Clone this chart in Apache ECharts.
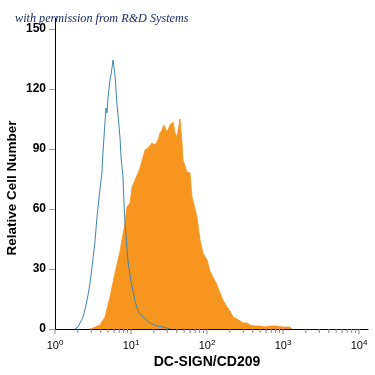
<!DOCTYPE html>
<html>
<head>
<meta charset="utf-8">
<script src="https://cdn.jsdelivr.net/npm/echarts@6/dist/echarts.min.js"></script>
<style>
  html, body { margin: 0; padding: 0; background: #fff; }
  #chart { width: 375px; height: 375px; }
</style>
</head>
<body>
<div id="chart"></div>
<script>
  // isotype control (blue outline)
  var isoX = [1.83, 2.01, 2.13, 2.34, 2.56, 2.72, 2.89, 3.16, 3.36, 3.57, 3.91, 4.15, 4.28, 4.55, 4.69, 4.83, 4.98,
    5.29, 5.46, 5.80, 6.16, 6.55, 6.75, 7.17, 7.39, 7.85, 8.09, 8.34, 9.13, 10.0, 10.63, 11.29, 12.37, 14.39,
    17.78, 21.99, 26.37, 32.61];
  var isoY = [0, 1, 3, 6, 12, 17, 23, 35, 44, 56, 70, 78.5, 88.5, 103.5, 110.5, 108, 115.5,
    124.5, 127, 134.5, 127, 112, 107, 95.5, 86, 76, 63, 53, 34, 24, 19, 14, 9, 6,
    3, 1.5, 1, 0];

  // DC-SIGN stained cells (orange fill)
  var dcX = [2.89, 3.16, 3.91, 4.55, 5.29, 6.16, 7.17, 8.34, 8.86, 9.70, 10.31, 11.29, 12.37, 13.14, 14.39,
    15.29, 16.74, 17.78, 18.90, 20.70, 22.67, 24.08, 25.58, 27.18, 29.77, 32.61, 35.71, 37.93, 40.30, 44.13,
    46.90, 48.33, 54.57, 59.76, 63.48, 69.54, 73.86, 80.89, 88.61, 100, 109.5, 119.9, 135.4, 148.3, 162.4,
    183.3, 200.8, 219.9, 248.2, 271.8, 297.7, 336.0, 368.0, 428.2, 498.4, 579.8, 674.6, 833.9, 1000, 1236, 1314];
  var dcY = [0, 0.5, 2, 6, 16, 28, 39, 53, 61, 63, 71, 74.5, 78, 80.5, 86,
    89.5, 90.5, 90, 93, 92, 94.5, 98, 99.5, 102, 98.5, 102, 103.5, 98, 96, 105,
    93, 84.5, 78.5, 78, 66, 60, 56, 44.5, 38, 34.5, 29, 26, 22, 18, 14.5,
    11, 9, 6, 5, 4, 3, 3, 2, 1.5, 1.5, 1, 1.5, 1.5, 1, 1, 0];

  var yTicks = [0, 30, 60, 90, 120, 150];
  var majorTicks = [1, 10, 100, 1000, 10000];
  var minorTicks = [2, 3, 4, 5, 6, 7, 8, 9, 20, 30, 40, 50, 60, 70, 80, 90,
    200, 300, 400, 500, 600, 700, 800, 900, 2000, 3000, 4000, 5000, 6000, 7000, 8000, 9000];

  function pairs(xs, ys) {
    var out = [];
    for (var i = 0; i < xs.length; i++) {
      out.push([xs[i], ys[i]]);
    }
    return out;
  }

  var tickData = [];
  majorTicks.forEach(function (v) { tickData.push([v, 0, 1]); });
  minorTicks.forEach(function (v) { tickData.push([v, 0, 0]); });

  var font = 'Liberation Sans, Arial, sans-serif';
  var myChart = echarts.init(document.getElementById('chart'));
  myChart.setOption({
    animation: false,
    title: {
      text: 'with permission from R&D Systems',
      left: 10,
      top: 8,
      textStyle: {
        fontFamily: 'Liberation Serif, DejaVu Serif, serif',
        fontStyle: 'italic',
        fontWeight: 'normal',
        fontSize: 12.2,
        color: '#1c2a63'
      }
    },
    grid: {
      left: 55,
      right: 7,
      top: 18,
      bottom: 46,
      outerBoundsMode: 'none',
      containLabel: false
    },
    xAxis: {
      type: 'log',
      logBase: 10,
      min: 1,
      max: 13130,
      name: 'DC-SIGN/CD209',
      nameLocation: 'middle',
      nameGap: 26,
      nameMoveOverlap: false,
      nameTextStyle: {
        fontFamily: font,
        fontWeight: 'bold',
        fontSize: 14,
        color: '#000',
        padding: [0, 9, 0, 0]
      },
      axisLine: { lineStyle: { color: '#000', width: 1 } },
      axisTick: { show: false },
      splitLine: { show: false },
      axisLabel: {
        margin: 10,
        fontFamily: font,
        fontSize: 11,
        color: '#000',
        formatter: function (v) {
          var k = Math.round(Math.log10(v));
          if (Math.abs(Math.log10(v) - k) > 1e-6 || k > 4) {
            return '';
          }
          return '{b|10}{s|' + k + '}';
        },
        rich: {
          b: { fontFamily: font, fontSize: 11, color: '#000' },
          s: { fontFamily: font, fontSize: 8, color: '#000', padding: [0, 0, 6, 0] }
        }
      }
    },
    yAxis: {
      type: 'value',
      min: 0,
      max: 155.5,
      name: 'Relative Cell Number',
      nameLocation: 'middle',
      nameRotate: 90,
      nameGap: 36,
      nameMoveOverlap: false,
      nameTextStyle: {
        fontFamily: font,
        fontWeight: 'bold',
        fontSize: 13.5,
        color: '#000',
        padding: [0, 29, 0, 0]
      },
      axisLine: { show: true, lineStyle: { color: '#000', width: 1 } },
      axisTick: {
        show: true,
        length: 6,
        customValues: yTicks,
        lineStyle: { color: '#999' }
      },
      splitLine: { show: false },
      axisLabel: {
        margin: 9,
        customValues: yTicks,
        fontFamily: font,
        fontWeight: 'bold',
        fontSize: 12,
        color: '#000'
      }
    },
    series: [
      {
        type: 'line',
        data: pairs(dcX, dcY),
        showSymbol: false,
        symbol: 'none',
        smooth: false,
        lineStyle: { color: '#f7961e', width: 0.8 },
        areaStyle: { color: '#f7961e', opacity: 1 },
        z: 2
      },
      {
        type: 'line',
        data: pairs(isoX, isoY),
        showSymbol: false,
        symbol: 'none',
        smooth: false,
        lineStyle: { color: '#3c86b2', width: 1 },
        z: 3
      },
      {
        type: 'custom',
        data: tickData,
        clip: false,
        silent: true,
        z: 4,
        renderItem: function (params, api) {
          var p = api.coord([api.value(0), 0]);
          var len = api.value(2) ? 5 : 4;
          return {
            type: 'line',
            shape: { x1: p[0], y1: p[1], x2: p[0], y2: p[1] + len },
            style: { stroke: '#888', lineWidth: 1 }
          };
        }
      }
    ]
  });
</script>
</body>
</html>
